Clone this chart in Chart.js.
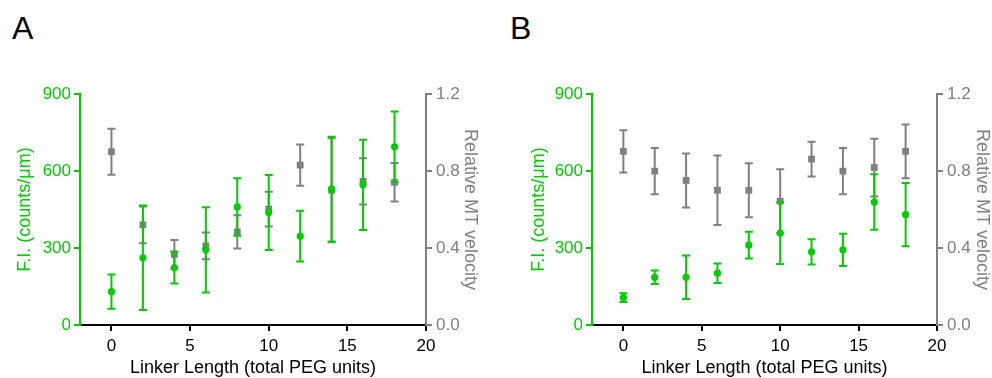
<!DOCTYPE html>
<html>
<head>
<meta charset="utf-8">
<script src="https://cdn.jsdelivr.net/npm/chart.js@4.4.1/dist/chart.umd.min.js"></script>
<style>
  html, body { margin: 0; padding: 0; background: #fff; }
  body { width: 992px; height: 378px; position: relative; overflow: hidden; font-family: "Liberation Sans", Arial, sans-serif; }
  .panel { position: absolute; top: 0; width: 496px; height: 378px; }
  .tag { position: absolute; font-size: 32px; line-height: 32px; color: #000; }
</style>
</head>
<body>
<div class="tag" style="left:12px;top:12px">A</div>
<div class="tag" style="left:510px;top:12px">B</div>
<div class="panel" style="left:0"><canvas id="chartA" width="496" height="378"></canvas></div>
<div class="panel" style="left:496px"><canvas id="chartB" width="496" height="378"></canvas></div>
<script>
// x positions (total PEG units)
const linkerLength = [0, 2, 4, 6, 8, 10, 12, 14, 16, 18];

// panel A
const fiA      = [130, 262, 224, 293, 460, 438, 346, 529, 546, 694];
const fiErrA   = [67, 204, 62, 166, 112, 146, 99, 204, 176, 138];
const velA     = [0.90, 0.52, 0.367, 0.411, 0.484, 0.602, 0.831, 0.70, 0.746, 0.741];
const velErrA  = [0.12, 0.095, 0.075, 0.07, 0.086, 0.09, 0.107, 0.27, 0.12, 0.10];

// panel B
const fiB      = [107, 186, 186, 202, 311, 358, 285, 293, 479, 430];
const fiErrB   = [17, 26, 85, 38, 52, 120, 49, 63, 108, 123];
const velB     = [0.902, 0.799, 0.751, 0.700, 0.700, 0.643, 0.862, 0.799, 0.818, 0.902];
const velErrB  = [0.11, 0.12, 0.14, 0.18, 0.14, 0.166, 0.09, 0.12, 0.15, 0.14];

const xTicks = [0, 5, 10, 15, 20];
const fiTicks = [0, 300, 600, 900];
const velTicks = [0, 0.4, 0.8, 1.2];

const GREEN = "#00cc00";
const GREY = "#808080";
const FONT = "'Liberation Sans', Arial, sans-serif";

// draws the bars under each dataset's own markers
const errorBars = {
    id: "errorBars",
    beforeDatasetDraw(chart, args) {
        const ds = chart.data.datasets[args.index];
        const yScale = chart.scales[args.meta.yAxisID];
        const ctx = chart.ctx;
        ctx.save();
        ctx.strokeStyle = ds.borderColor;
        ctx.lineWidth = 2;
        args.meta.data.forEach((pt, i) => {
            const v = ds.data[i].y, e = ds.errors[i];
            const top = yScale.getPixelForValue(v + e);
            const bot = yScale.getPixelForValue(v - e);
            ctx.beginPath();
            ctx.moveTo(pt.x, top); ctx.lineTo(pt.x, bot);
            ctx.moveTo(pt.x - 4, top); ctx.lineTo(pt.x + 4, top);
            ctx.moveTo(pt.x - 4, bot); ctx.lineTo(pt.x + 4, bot);
            ctx.stroke();
        });
        ctx.restore();
    }
};

function points(ys) {
    return linkerLength.map((x, i) => ({ x: x, y: ys[i] }));
}

function makePanel(id, fi, fiErr, vel, velErr, geo) {
    new Chart(document.getElementById(id), {
        type: "scatter",
        data: {
            datasets: [
                {
                    label: "F.I.",
                    data: points(fi),
                    errors: fiErr,
                    yAxisID: "y",
                    pointStyle: "circle",
                    pointRadius: 3.6,
                    backgroundColor: GREEN,
                    borderColor: GREEN,
                    borderWidth: 0,
                },
                {
                    label: "Relative MT velocity",
                    data: points(vel),
                    errors: velErr,
                    yAxisID: "y1",
                    pointStyle: "rect",
                    pointRadius: 4.8,
                    backgroundColor: GREY,
                    borderColor: GREY,
                    borderWidth: 0,
                },
            ],
        },
        options: {
            responsive: false,
            animation: false,
            layout: { padding: { top: 94, left: 0, right: 0, bottom: 0 } },
            plugins: { legend: { display: false }, tooltip: { enabled: false } },
            scales: {
                x: {
                    type: "linear",
                    min: -2,
                    max: 20,
                    afterBuildTicks: (s) => { s.ticks = xTicks.map((v) => ({ value: v })); },
                    afterFit: (s) => { s.height = 53; },
                    grid: { drawOnChartArea: false, tickLength: 6, color: "#000", lineWidth: 2 },
                    border: { color: "#000", width: 2 },
                    ticks: { color: "#000", font: { family: FONT, size: 17 }, padding: 5, maxRotation: 0 },
                    title: {
                        display: true,
                        text: "Linker Length (total PEG units)",
                        color: "#000",
                        font: { family: FONT, size: 18, lineHeight: 1.1 },
                        padding: 0,
                    },
                },
                y: {
                    position: "left",
                    min: 0,
                    max: 900,
                    afterBuildTicks: (s) => { s.ticks = fiTicks.map((v) => ({ value: v })); },
                    afterFit: (s) => { s.width = geo.leftW; },
                    grid: { drawOnChartArea: false, tickLength: 6, color: GREEN, lineWidth: 2 },
                    border: { color: GREEN, width: 2 },
                    ticks: { color: GREEN, font: { family: FONT, size: 17 }, padding: 3 },
                    title: {
                        display: true,
                        text: "F.I. (counts/\u03bcm)",
                        color: GREEN,
                        font: { family: FONT, size: 18, lineHeight: 1.1 },
                        padding: { top: geo.leftPad, bottom: 0 },
                    },
                },
                y1: {
                    position: "right",
                    min: 0,
                    max: 1.2,
                    afterBuildTicks: (s) => { s.ticks = velTicks.map((v) => ({ value: v })); },
                    afterFit: (s) => { s.width = geo.rightW; },
                    grid: { drawOnChartArea: false, tickLength: 6, color: GREY, lineWidth: 2 },
                    border: { color: GREY, width: 2 },
                    ticks: {
                        color: GREY,
                        font: { family: FONT, size: 17 },
                        padding: 4,
                        callback: (v) => v.toFixed(1),
                    },
                    title: {
                        display: true,
                        text: "Relative MT velocity",
                        color: GREY,
                        font: { family: FONT, size: 18, lineHeight: 1.1 },
                        padding: { top: geo.rightPad, bottom: 0 },
                    },
                },
            },
        },
        plugins: [errorBars],
    });
}

makePanel("chartA", fiA, fiErrA, velA, velErrA, { leftW: 80, rightW: 70, leftPad: 15, rightPad: 16 });
makePanel("chartB", fiB, fiErrB, velB, velErrB, { leftW: 96, rightW: 55, leftPad: 33, rightPad: 0 });
</script>
</body>
</html>
